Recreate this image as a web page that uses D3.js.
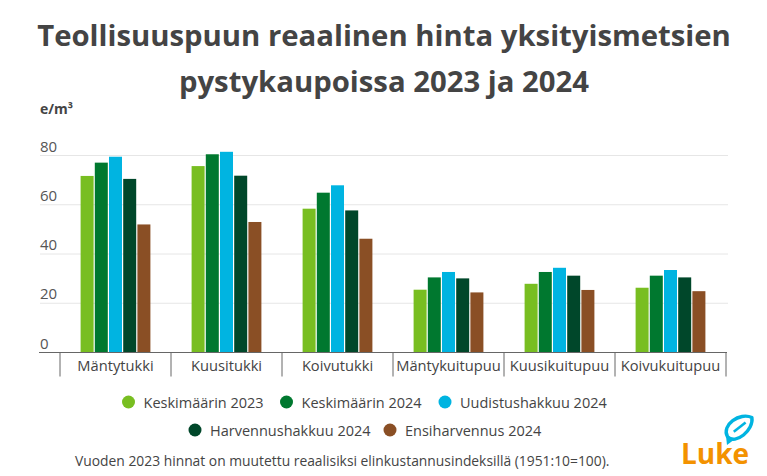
<!DOCTYPE html>
<html><head><meta charset="utf-8">
<script src="https://cdn.jsdelivr.net/npm/d3@7"></script>
<style>
html,body{margin:0;padding:0;background:#fff;}
svg{display:block;font-family:"Open Sans",sans-serif;}
</style></head>
<body>
<svg id="chart" width="767" height="476"></svg>
<script>
const categories = ["Mäntytukki","Kuusitukki","Koivutukki","Mäntykuitupuu","Kuusikuitupuu","Koivukuitupuu"];
const seriesNames = ["Keskimäärin 2023","Keskimäärin 2024","Uudistushakkuu 2024","Harvennushakkuu 2024","Ensiharvennus 2024"];
const keskimaarin2023 = [71.7, 75.7, 58.4, 25.5, 27.9, 26.3];
const keskimaarin2024 = [77.1, 80.5, 64.9, 30.5, 32.7, 31.2];
const uudistushakkuu2024 = [79.5, 81.5, 67.9, 32.7, 34.4, 33.5];
const harvennushakkuu2024 = [70.5, 71.8, 57.7, 30.1, 31.2, 30.5];
const ensiharvennus2024 = [52.0, 53.0, 46.2, 24.4, 25.4, 24.9];
const seriesValues = [keskimaarin2023, keskimaarin2024, uudistushakkuu2024, harvennushakkuu2024, ensiharvennus2024];
const colors = ["#78be21","#00782f","#00b4e1","#00472a","#8a4f25"];
const yTicks = [0, 20, 40, 60, 80];

const svg = d3.select("#chart");

// Title
const title = svg.append("text").attr("text-anchor","middle").attr("fill","#444")
  .style("font-weight","700").style("font-size","29.3px");
title.append("tspan").attr("x",384).attr("y",46).text("Teollisuuspuun reaalinen hinta yksityismetsien");
title.append("tspan").attr("x",384).attr("y",92).text("pystykaupoissa 2023 ja 2024");

// Scales
const x0 = d3.scaleBand().domain(categories).range([60, 726]).padding(0);
const x1 = d3.scaleBand().domain(d3.range(seriesNames.length)).range([20, 91]).padding(0);
const y = d3.scaleLinear().domain([0, 80]).range([352.5, 155.5]);

// Unit label
svg.append("text").attr("x",40).attr("y",114).attr("fill","#444")
  .style("font-size","14px").style("font-weight","700").text("e/m³");

// Gridlines
svg.append("g").selectAll("line").data(yTicks.filter(d=>d>0)).join("line")
  .attr("x1",40).attr("x2",728).attr("y1",d=>y(d)).attr("y2",d=>y(d))
  .attr("stroke","#e6e6e6").attr("stroke-width",1);

// Y tick labels (above gridlines)
svg.append("g").selectAll("text").data(yTicks).join("text")
  .attr("x",40).attr("y",d=>y(d)-4).attr("fill","#555")
  .style("font-size","15px").text(d=>d);

// Bars
const groups = svg.append("g").selectAll("g").data(categories).join("g")
  .attr("transform",d=>`translate(${x0(d)},0)`);
groups.selectAll("rect").data((c,ci)=>seriesValues.map((s,si)=>({si, v:s[ci]}))).join("rect")
  .attr("x",d=>x1(d.si)+0.6).attr("width",x1.bandwidth()-1.2)
  .attr("y",d=>y(d.v)).attr("height",d=>y(0)-y(d.v))
  .attr("fill",d=>colors[d.si]);

// X axis
const xAxis = d3.axisBottom(x0).tickSize(0).tickPadding(8);
const gx = svg.append("g").attr("transform",`translate(0,${y(0)})`).call(xAxis);
gx.select(".domain").remove();
gx.selectAll("text").attr("fill","#444").style("font-size","14.7px").style("font-family","Open Sans, sans-serif");
svg.append("line").attr("x1",39).attr("x2",727).attr("y1",y(0)).attr("y2",y(0))
  .attr("stroke","#666").attr("stroke-width",1.2);
const bounds = categories.map(c=>x0(c)).concat([x0.range()[1]]);
svg.append("g").selectAll("line").data(bounds).join("line")
  .attr("x1",d=>d).attr("x2",d=>d).attr("y1",y(0)).attr("y2",y(0)+24)
  .attr("stroke","#666").attr("stroke-width",1);

// Legend
const legendRows = [
  [{i:0,cx:128.5},{i:1,cx:286.5},{i:2,cx:445}],
  [{i:3,cx:195},{i:4,cx:390}]
];
const legendY = [402, 430];
legendRows.forEach((row,ri)=>{
  const g = svg.append("g");
  row.forEach(item=>{
    g.append("circle").attr("cx",item.cx).attr("cy",legendY[ri]).attr("r",6.5).attr("fill",colors[item.i]);
    g.append("text").attr("x",item.cx+15).attr("y",legendY[ri]+5.5).attr("fill","#444")
      .style("font-size","14.5px").text(seriesNames[item.i]);
  });
});

// Footnote
svg.append("text").attr("x",75).attr("y",466).attr("fill","#444").style("font-size","13.85px")
  .text("Vuoden 2023 hinnat on muutettu reaalisiksi elinkustannusindeksillä (1951:10=100).");

// Luke logo
svg.append("text").attr("x",681).attr("y",463.5).attr("fill","#f39200")
  .style("font-size","28px").style("font-weight","700").style("font-family","Open Sans, sans-serif")
  .text("Luke");
const leaf = svg.append("g").attr("transform","translate(738.5,428) rotate(-38)");
leaf.append("path")
  .attr("d","M17,0 C11,-12 -12,-13 -14,0 C-13,12 11,11 17,0 Z")
  .attr("fill","none").attr("stroke","#00b4e1").attr("stroke-width",3.4).attr("stroke-linejoin","round");
leaf.append("path").attr("d","M-6,0 L9,0").attr("stroke","#00b4e1").attr("stroke-width",2.6);
svg.append("path").attr("d","M726,436 L727,445 L735,439 Z").attr("fill","#00b4e1");
</script>
</body></html>
